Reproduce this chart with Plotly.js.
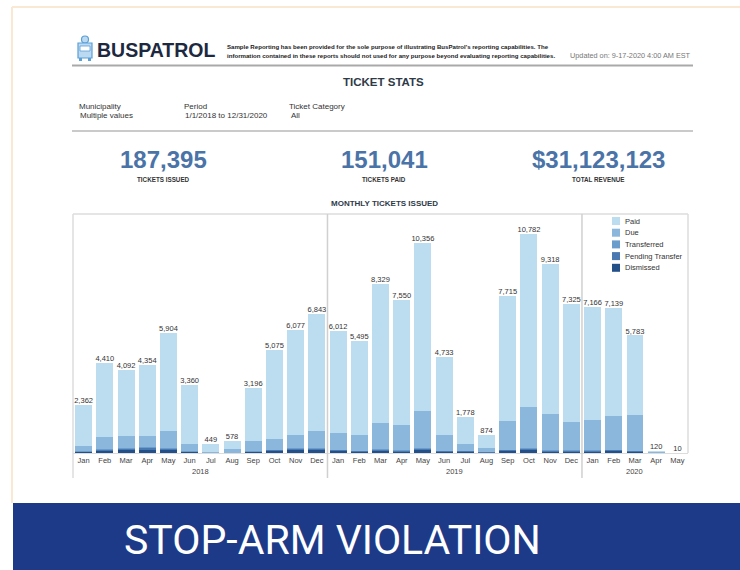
<!DOCTYPE html>
<html>
<head>
<meta charset="utf-8">
<script src="https://cdn.plot.ly/plotly-3.0.1.min.js"></script>
<style>html,body{margin:0;padding:0;background:#fff;}#chart{width:740px;height:570px;}</style>
</head>
<body>
<div id="chart"></div>
<script>
// ---- data ----
const months = ["Jan","Feb","Mar","Apr","May","Jun","Jul","Aug","Sep","Oct","Nov","Dec",
                "Jan","Feb","Mar","Apr","May","Jun","Jul","Aug","Sep","Oct","Nov","Dec",
                "Jan","Feb","Mar","Apr","May"];
const years = ["2018","2019","2020"];
const totals = [2362,4410,4092,4354,5904,3360,449,578,3196,5075,6077,6843,
                6012,5495,8329,7550,10356,4733,1778,874,7715,10782,9318,7325,
                7166,7139,5783,120,10];
const paid = [2002,3640,3256,3518,4838,2900,379,398,2589,4370,5177,5777,
              5044,4595,6839,6156,8276,3833,1338,628,6125,8532,7398,5800,
              5559,5302,3913,90,10];
const due = [280,570,606,526,836,380,60,165,527,545,670,836,
             808,800,1290,1264,1830,800,340,216,1430,2020,1790,1395,
             1477,1677,1770,25,0];
const transferred = [20,40,40,60,40,15,0,5,15,30,40,40,
                     30,20,35,25,45,20,20,5,30,40,25,25,
                     25,30,20,0,0];
const pending = [20,50,60,80,60,20,5,5,20,40,60,60,
                 40,25,50,35,65,25,25,10,40,60,35,35,
                 35,40,25,0,0];
const dismissed = [40,110,130,170,130,45,5,5,45,90,130,130,
                   90,55,115,70,140,55,55,15,90,130,70,70,
                   70,90,55,5,0];
const seriesNames = ["Paid","Due","Transferred","Pending Transfer","Dismissed"];
const kpiValues = ["187,395","151,041","$31,123,123"];
const kpiLabels = ["TICKETS ISSUED","TICKETS PAID","TOTAL REVENUE"];

// ---- helpers ----
const W = 740, H = 570;
const px = x => x / W;
const py = y => 1 - y / H;
const idx = months.map((m, i) => i);

const seriesColors = ["#bcdcf0", "#8cb7dc", "#6b9dcc", "#4a78b0", "#24508a"];
const seriesData = [paid, due, transferred, pending, dismissed];
const traces = [];
// stack from bottom: Dismissed ... Paid on top
for (let k = seriesNames.length - 1; k >= 0; k--) {
  traces.push({type: "bar", name: seriesNames[k], x: idx, y: seriesData[k], showlegend: false,
    marker: {color: seriesColors[k], line: {width: 0}},
    hovertemplate: seriesNames[k] + ": %{y}<extra></extra>"});
}
traces.push({type: "scatter", mode: "text", x: idx, y: totals, showlegend: false,
   text: totals.map(v => v.toLocaleString("en-US")), textposition: "top center",
   textfont: {family: "Liberation Sans, Arial", size: 7.5, color: "#333"},
   cliponaxis: false, hoverinfo: "skip"});

// ---- layout positions (px) ----
const plotL = 73, plotR = 688, plotT = 214, plotB = 453;
const font = "Liberation Sans, Arial, sans-serif";
const ann = [];
function txt(text, x, y, size, opts) {
  ann.push(Object.assign({xref: "paper", yref: "paper", x: px(x), y: py(y), text: text,
    showarrow: false, xanchor: "left", yanchor: "middle",
    font: {family: font, size: size, color: "#333"}}, opts || {}));
}
// header
txt("<b>BUSPATROL</b>", 95, 50, 19.5, {font: {family: font, size: 19.5, color: "#1d2940"}});
txt("<b>Sample Reporting has been provided for the sole purpose of illustrating BusPatrol's reporting capabilities. The</b>", 225, 46.5, 6.1, {font: {family: font, size: 6.1, color: "#222"}});
txt("<b>information contained in these reports should not used for any purpose beyond evaluating reporting capabilities.</b>", 225, 55.5, 6.1, {font: {family: font, size: 6.1, color: "#222"}});
txt("Updated on: 9-17-2020 4:00 AM EST", 568, 56, 7.3, {font: {family: font, size: 7.3, color: "#777"}});
txt("<b>TICKET STATS</b>", 383, 82, 11.5, {xanchor: "center", font: {family: font, size: 11.5, color: "#2f3a48"}});
txt("Municipality", 77, 106, 8);
txt("Multiple values", 78, 116, 8);
txt("Period", 182, 106, 8);
txt("1/1/2018 to 12/31/2020", 183, 116, 8);
txt("Ticket Category", 287, 106, 8);
txt("All", 289, 116, 8);
const kpiX = [163, 384, 598];
kpiValues.forEach((v, i) => {
  txt("<b>" + v + "</b>", kpiX[i], 159, 24, {xanchor: "center", font: {family: font, size: 24, color: "#4a73a7"}});
  txt("<b>" + kpiLabels[i] + "</b>", kpiX[i], 179, 6.3, {xanchor: "center", font: {family: font, size: 6.3, color: "#333"}});
});
txt("<b>MONTHLY TICKETS ISSUED</b>", 384, 203, 8, {xanchor: "center", font: {family: font, size: 8, color: "#2f3a48"}});
// year labels under month labels
const yearCenters = [5.5, 17.5, 26];
years.forEach((yr, i) => {
  ann.push({xref: "x", yref: "paper", x: yearCenters[i], y: py(471), text: yr, showarrow: false,
    xanchor: "center", yanchor: "middle", font: {family: font, size: 7.5, color: "#444"}});
});
// banner
txt("STOP-ARM VIOLATION", 122, 540, 41, {font: {family: "Roboto, sans-serif", size: 41, color: "#ffffff"}});

const shapes = [
  // beige frame
  {type: "line", xref: "paper", yref: "paper", x0: px(12), x1: px(740), y0: py(7), y1: py(7), line: {color: "#fbe8d2", width: 2}},
  {type: "line", xref: "paper", yref: "paper", x0: px(12), x1: px(12), y0: py(7), y1: py(503), line: {color: "#fbe8d2", width: 2}},
  // header rules
  {type: "line", xref: "paper", yref: "paper", x0: px(72), x1: px(693), y0: py(65.5), y1: py(65.5), line: {color: "#a9a9a9", width: 2}},
  {type: "line", xref: "paper", yref: "paper", x0: px(72), x1: px(693), y0: py(131), y1: py(131), line: {color: "#b8b8b8", width: 1.5}},
  // plot frame
  {type: "line", xref: "paper", yref: "paper", x0: px(plotL), x1: px(plotR), y0: py(plotT), y1: py(plotT), line: {color: "#dcdcdc", width: 1.5}},
  {type: "line", xref: "paper", yref: "paper", x0: px(plotL), x1: px(plotL), y0: py(plotT), y1: py(478), line: {color: "#dcdcdc", width: 1.5}},
  {type: "line", xref: "paper", yref: "paper", x0: px(plotR), x1: px(plotR), y0: py(plotT), y1: py(plotB), line: {color: "#dcdcdc", width: 1.5}},
  // year dividers
  {type: "line", xref: "x", yref: "paper", x0: 11.5, x1: 11.5, y0: py(plotT), y1: py(478), line: {color: "#d0d0d0", width: 1.5}},
  {type: "line", xref: "x", yref: "paper", x0: 23.5, x1: 23.5, y0: py(plotT), y1: py(478), line: {color: "#d0d0d0", width: 1.5}},
  // banner
  {type: "rect", xref: "paper", yref: "paper", x0: px(13), x1: px(740), y0: py(503), y1: py(570), fillcolor: "#1d3a89", line: {width: 0}, layer: "below"},
  // logo icon (bus)
  {type: "circle", xref: "paper", yref: "paper", x0: px(81.5), x1: px(88.5), y0: py(36), y1: py(43), fillcolor: "#bcd9f2", line: {color: "#5a9fd6", width: 1.2}},
  {type: "rect", xref: "paper", yref: "paper", x0: px(78), x1: px(92), y0: py(43), y1: py(58), fillcolor: "#bcd9f2", line: {color: "#5a9fd6", width: 1.2}},
  {type: "rect", xref: "paper", yref: "paper", x0: px(80), x1: px(90), y0: py(46), y1: py(51), fillcolor: "#ffffff", line: {color: "#5a9fd6", width: 0.8}},
  {type: "rect", xref: "paper", yref: "paper", x0: px(79), x1: px(82), y0: py(58), y1: py(61), fillcolor: "#5a9fd6", line: {width: 0}},
  {type: "rect", xref: "paper", yref: "paper", x0: px(88), x1: px(91), y0: py(58), y1: py(61), fillcolor: "#5a9fd6", line: {width: 0}}
];
// compact legend (swatch + label), in Paid..Dismissed order
const legX = 612, legY0 = 221, legStep = 11.7;
seriesNames.forEach((name, k) => {
  const yc = legY0 + k * legStep;
  shapes.push({type: "rect", xref: "paper", yref: "paper", x0: px(legX), x1: px(legX + 8),
    y0: py(yc - 4), y1: py(yc + 4), fillcolor: seriesColors[k], line: {width: 0}});
  txt(name, legX + 10.5, yc, 7.5, {font: {family: font, size: 7.5, color: "#333"}});
});

const layout = {
  width: W, height: H,
  margin: {l: 0, r: 0, t: 0, b: 0},
  paper_bgcolor: "#ffffff", plot_bgcolor: "#ffffff",
  barmode: "stack", bargap: 0.2,
  showlegend: false,
  xaxis: {domain: [px(plotL), px(plotR)], range: [-0.5, 28.5], tickmode: "array",
          tickvals: idx, ticktext: months, showgrid: false, zeroline: false,
          showline: true, linecolor: "#dcdcdc", linewidth: 1, ticks: "",
          tickfont: {family: font, size: 7.5, color: "#444"}, fixedrange: true},
  yaxis: {domain: [py(plotB), py(plotT)], range: [0, 11760], showticklabels: false,
          showgrid: false, zeroline: false, showline: false, ticks: "", fixedrange: true},
  annotations: ann,
  shapes: shapes
};
Plotly.newPlot("chart", traces, layout, {displayModeBar: false, staticPlot: true});
</script>
</body>
</html>
